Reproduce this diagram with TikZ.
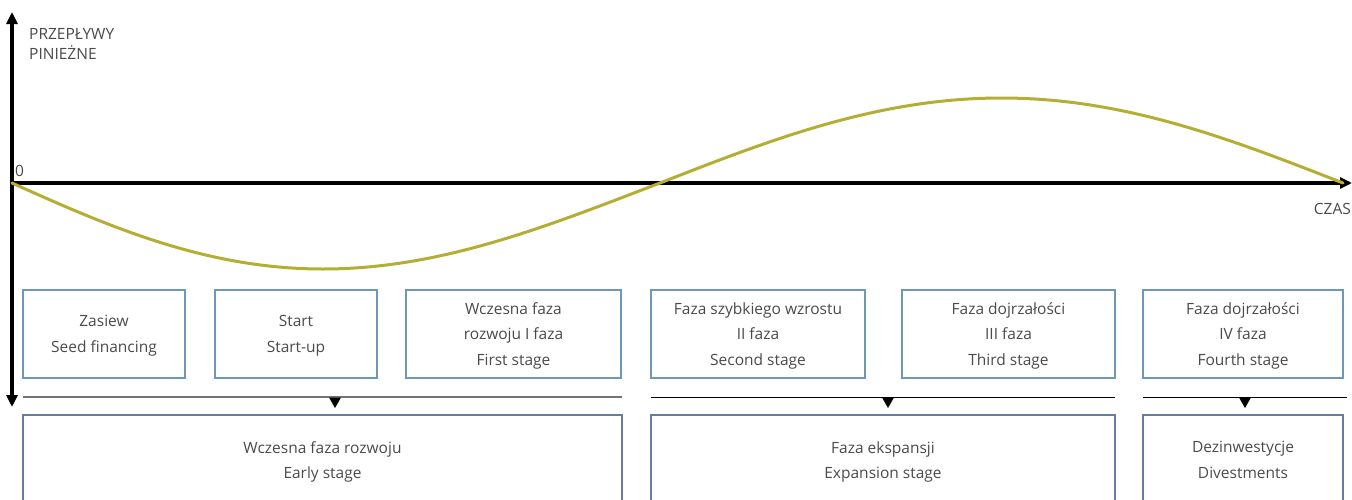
\documentclass[tikz,border=0pt]{standalone}
\usepackage{fontspec}
\setmainfont{Open Sans}
\usetikzlibrary{arrows.meta}
\definecolor{txt}{HTML}{4A4A4A}
\definecolor{topblue}{HTML}{6F98B8}
\definecolor{botblue}{HTML}{6B7B9E}
\definecolor{olive}{HTML}{B5AE35}
\begin{document}
\begin{tikzpicture}[x=1pt,y=-1pt,
  every node/.style={text=txt,font=\fontsize{15.5}{25.5}\selectfont},
  axisline/.style={line width=4.5pt,black},
  topbox/.style={draw=topblue,line width=2.5pt,align=center,inner sep=0pt,minimum height=88pt,text depth=-5pt},
  botbox/.style={draw=botblue,line width=2.5pt,align=center,inner sep=0pt,minimum height=90pt,text depth=-5pt},
  sepline/.style={line width=1pt,black},
  tri/.style={fill=black,draw=none}]
\useasboundingbox (0,0) rectangle (1352,499);
\clip (0,0) rectangle (1352,499);
% axes
\coordinate (ytop) at (12,12);
\coordinate (ybot) at (12,407);
\coordinate (o) at (12,183);
\coordinate (xend) at (1352,183);
\draw[axisline,-{Triangle[length=12pt,width=11pt]}] (12,200) -- (ytop);
\draw[axisline,-{Triangle[length=12pt,width=11pt]}] (12,180) -- (ybot);
\draw[axisline,-{Triangle[length=12pt,width=11pt]}] (10,183) -- (xend);
\node[anchor=west,inner sep=0pt] (ylab1) at (29,34) {PRZEPŁYWY};
\node[anchor=west,inner sep=0pt] (ylab2) at (29,53) {PINIEŻNE};
\node[anchor=west,inner sep=0pt] (zero) at (15,171) {0};
\node[anchor=east,inner sep=0pt] (xlab) at (1351,209) {CZAS};
% curve
\draw[olive,line width=3pt,line cap=round]
  plot[domain=0:1,samples=120,smooth] ({12+648*\x},{183+86*sin((\x+0.08*\x*(1-\x))*180)})
  -- plot[domain=660:1343,samples=100,smooth] (\x,{183-85*sin((\x-660)/683*180)});
% top boxes
\node[topbox,minimum width=162pt] (b1) at (104,334) {Zasiew\\Seed financing};
\node[topbox,minimum width=162pt] (b2) at (296,334) {Start\\Start-up};
\node[topbox,minimum width=215pt] (b3) at (513.5,334) {Wczesna faza\\rozwoju I faza\\First stage};
\node[topbox,minimum width=214pt] (b4) at (758,334) {Faza szybkiego wzrostu\\II faza\\Second stage};
\node[topbox,minimum width=213pt] (b5) at (1008.5,334) {Faza dojrzałości\\III faza\\Third stage};
\node[topbox,minimum width=200pt] (b6) at (1243,334) {Faza dojrzałości\\IV faza\\Fourth stage};
% bottom boxes
\node[botbox,minimum width=599pt] (c1) at (322.5,460) {Wczesna faza rozwoju\\Early stage};
\node[botbox,minimum width=464pt] (c2) at (883,460) {Faza ekspansji\\Expansion stage};
\node[botbox,minimum width=200pt] (c3) at (1243,460) {Dezinwestycje\\Divestments};
% separator lines
\coordinate (s1a) at (23,397); \coordinate (s1b) at (622,397);
\coordinate (s2a) at (651,397); \coordinate (s2b) at (1115,397);
\coordinate (s3a) at (1143,397); \coordinate (s3b) at (1347,397);
\draw[line width=1.8pt,black!55] (s1a) -- (s1b);
\draw[sepline] (s2a) -- (s2b);
\draw[sepline] (s3a) -- (s3b);
\fill[tri] (329,397.5) -- (341,397.5) -- (335,408) -- cycle;
\fill[tri] (882,397.5) -- (894,397.5) -- (888,408) -- cycle;
\fill[tri] (1239,397.5) -- (1251,397.5) -- (1245,408) -- cycle;
\end{tikzpicture}
\end{document}
